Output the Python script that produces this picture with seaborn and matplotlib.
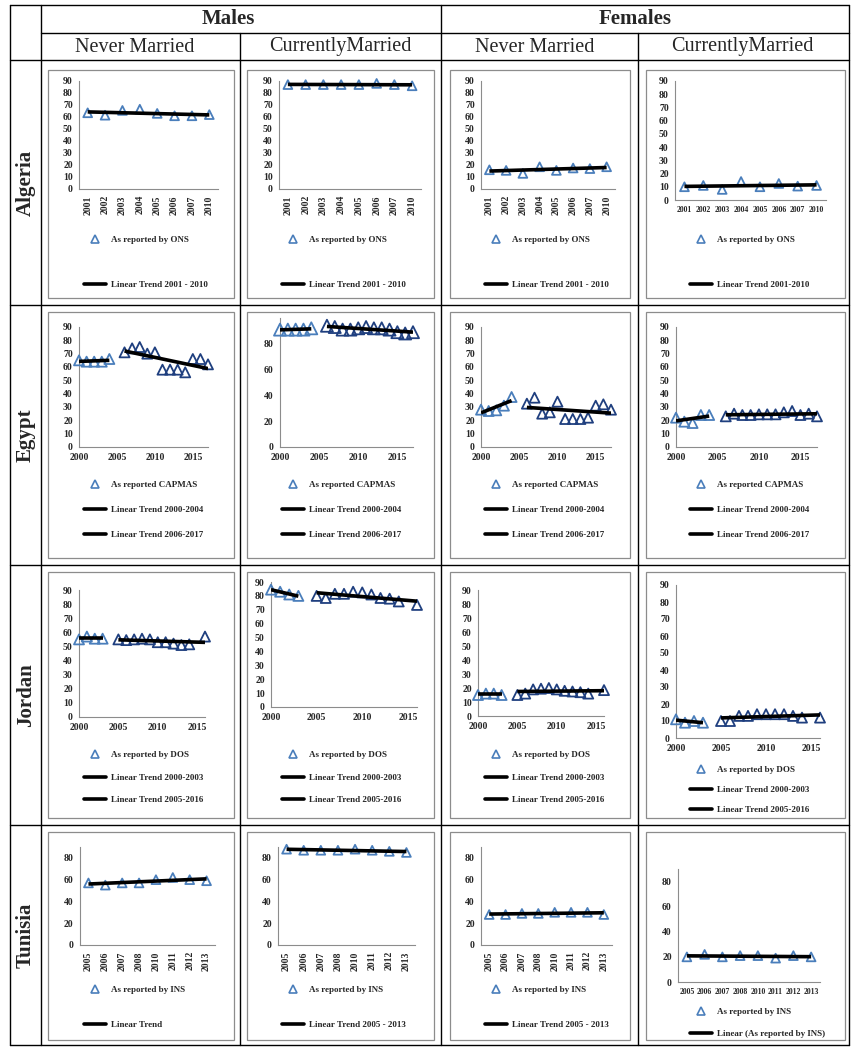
import matplotlib
matplotlib.use('Agg')
import matplotlib.pyplot as plt
from matplotlib.lines import Line2D
from matplotlib.patches import Rectangle
import numpy as np
import seaborn as sns

# ---- values ----
alg_years = ['2001', '2002', '2003', '2004', '2005', '2006', '2007', '2010']
alg_m_never = [63.5, 61.5, 65.5, 66.5, 63, 61, 61, 62]
alg_m_curr = [87, 87, 87, 87, 87, 88, 87, 86]
alg_f_never = [16, 15.5, 13, 18.5, 15.5, 17.5, 17, 18.5]
alg_f_curr = [10, 11, 8, 14, 10, 12.5, 10.5, 11]

egy_years_a = [2000, 2001, 2002, 2003, 2004]
egy_years_b = [2006, 2007, 2008, 2009, 2010, 2011, 2012, 2013, 2014, 2015, 2016, 2017]
egy_m_never_a = [65, 64, 64, 64, 66]
egy_m_never_b = [71, 74, 75, 70, 71, 58, 58, 58, 56, 66, 66, 62]
egy_m_curr_a = [91, 91, 91, 91, 92]
egy_m_curr_b = [94, 93, 91, 91, 92, 93, 92, 92, 91, 89, 88, 89]
egy_f_never_a = [28, 27, 27.5, 31, 37.5]
egy_f_never_b = [32.5, 37, 25, 26, 34, 21, 21, 21, 22, 31, 32, 28]
egy_f_curr_a = [22, 19, 18, 24, 24]
egy_f_curr_b = [23, 25, 24, 24, 24.5, 24.5, 24.5, 26, 27, 24, 25, 23]

jor_years_a = [2000, 2001, 2002, 2003]
jor_years_b = [2005, 2006, 2007, 2008, 2009, 2010, 2011, 2012, 2013, 2014, 2016]
jor_m_never_a = [55, 57, 55.5, 55.5]
jor_m_never_b = [55, 54.5, 55, 55.5, 55, 53, 53, 52, 51, 51.5, 57]
jor_m_curr_a = [84.5, 83, 81, 80]
jor_m_curr_b = [80, 78.5, 81.5, 81.5, 83, 82.5, 81, 78.5, 78, 76, 73.5]
jor_f_never_a = [15, 16, 16, 15]
jor_f_never_b = [15, 16, 19, 19.5, 20, 19, 18, 17.5, 17, 16, 18.5]
jor_f_curr_a = [11, 9, 10, 9]
jor_f_curr_b = [10, 10, 13, 13, 14, 14, 14, 14, 13, 12, 12]

tun_years = ['2005', '2006', '2007', '2008', '2010', '2011', '2012', '2013']
tun_m_never = [57, 55, 57, 57, 60, 62, 60, 59]
tun_m_curr = [88, 87, 87, 87, 88, 87, 86, 85]
tun_f_never = [28, 28, 29, 29, 30, 30, 30, 28]
tun_f_curr = [20, 22, 20, 21, 21, 19, 21, 20]

countries = ['Algeria', 'Egypt', 'Jordan', 'Tunisia']
sexes = ['Males', 'Females']
statuses = ['Never Married', 'CurrentlyMarried']

W, H = 855, 1050
BLUE = '#4a7ebb'
NAVY = '#1f3f7f'
GRID_LINE = '#8c8c8c'


def px_box(x0, y0, x1, y1):
    return [x0 / W, 1 - y1 / H, (x1 - x0) / W, (y1 - y0) / H]


def fig_line(fig, x0, y0, x1, y1, lw=1.0, color='black'):
    fig.add_artist(Line2D([x0 / W, x1 / W], [1 - y0 / H, 1 - y1 / H],
                          transform=fig.transFigure, color=color, lw=lw))


def fig_frame(fig, x0, y0, x1, y1):
    fig.add_artist(Rectangle((x0 / W, 1 - y1 / H), (x1 - x0) / W, (y1 - y0) / H,
                             transform=fig.transFigure, fill=False,
                             edgecolor=GRID_LINE, lw=0.9))


def add_legend(fig, handle, label, x, y):
    fig.legend([handle], [label], loc='center left',
               bbox_to_anchor=(x / W, 1 - y / H), frameon=False,
               borderpad=0, borderaxespad=0, handlelength=2.4,
               handletextpad=0.6, prop={'weight': 'bold', 'size': 6.5})


def draw_panel(fig, box, segments, ylim, yticks, xlim, xticks=None,
               cat_labels=None, rotate=True, ms=40):
    ax = fig.add_axes(px_box(*box))
    for i, (xs, ys) in enumerate(segments):
        col = BLUE if i == 0 else NAVY
        sns.scatterplot(x=xs, y=ys, marker='^', s=ms, facecolor='none',
                        edgecolor=col, linewidth=1.3, ax=ax, zorder=3,
                        clip_on=False)
        sns.regplot(x=xs, y=ys, scatter=False, ci=None, truncate=True,
                    color='black', ax=ax,
                    line_kws={'lw': 2.6, 'zorder': 4, 'solid_capstyle': 'butt'})
    ax.set_xlim(*xlim)
    ax.set_ylim(*ylim)
    ax.set_yticks(yticks)
    if cat_labels is not None:
        ax.set_xticks(np.arange(len(cat_labels)))
        ax.set_xticklabels(cat_labels, rotation=90 if rotate else 0)
    else:
        ax.set_xticks(xticks)
    ax.set_xlabel('')
    ax.set_ylabel('')
    ax.set_facecolor('none')
    for s in ['top', 'right']:
        ax.spines[s].set_visible(False)
    for s in ['left', 'bottom']:
        ax.spines[s].set_color(GRID_LINE)
        ax.spines[s].set_linewidth(0.8)
    ax.tick_params(axis='both', length=3, width=0.8, color=GRID_LINE,
                   labelsize=7, pad=1.5, direction='out')
    if cat_labels is not None and not rotate:
        # horizontal year labels sit side by side in the reference
        ax.tick_params(axis='x', labelsize=5.6, pad=1)
    for t in ax.get_xticklabels() + ax.get_yticklabels():
        t.set_fontweight('bold')
    return ax


def main():
    sns.set_theme(style='white')
    plt.rcParams['font.family'] = ['Liberation Serif', 'DejaVu Serif']
    fig = plt.figure(figsize=(W / 100, H / 100), dpi=100)

    # ---- table grid ----
    rows = [60, 305, 565, 825, 1045]
    fig_line(fig, 10, 5, 849, 5)
    fig_line(fig, 41, 33, 849, 33)
    for y in rows:
        fig_line(fig, 10, y, 849, y)
    for x in [10, 41, 441, 849]:
        fig_line(fig, x, 5, x, 1045)
    for x in [240, 638]:
        fig_line(fig, x, 33, x, 1045)

    fig.text(228 / W, 1 - 19 / H, sexes[0], ha='center', va='center',
             fontsize=15, fontweight='bold')
    fig.text(635 / W, 1 - 19 / H, sexes[1], ha='center', va='center',
             fontsize=15, fontweight='bold')
    for cx, lab in zip([135, 340, 535, 742], statuses * 2):
        fig.text(cx / W, 1 - 47 / H, lab, ha='center', va='center', fontsize=14.5)
    for cy, name in zip([183, 435, 695, 935], countries):
        fig.text(26 / W, 1 - cy / H, name, ha='center', va='center',
                 fontsize=15, fontweight='bold', rotation=90)

    # chart-area frames
    frame_x = [(48, 234), (247, 434), (450, 630), (646, 845)]
    frame_y = [(70, 298), (312, 558), (572, 818), (832, 1040)]
    for ry in frame_y:
        for rx in frame_x:
            fig_frame(fig, rx[0], ry[0], rx[1], ry[1])

    tri = Line2D([], [], marker='^', ls='none', mfc='none', mec=BLUE, mew=1.2, ms=6)
    trend = Line2D([], [], color='black', lw=2.6)
    leg_x = [84, 282, 485, 690]

    # ---- Algeria ----
    cat = np.arange(len(alg_years))
    y90 = [0, 10, 20, 30, 40, 50, 60, 70, 80, 90]
    alg_boxes = [(79, 81, 218, 189), (279, 81, 421, 189),
                 (481, 81, 615, 189), (675, 81, 826, 200)]
    alg_series = [alg_m_never, alg_m_curr, alg_f_never, alg_f_curr]
    for i, (box, vals) in enumerate(zip(alg_boxes, alg_series)):
        draw_panel(fig, box, [(cat, vals)], (0, 90), y90, (-0.5, 7.5),
                   cat_labels=alg_years, rotate=(i != 3), ms=40)
        add_legend(fig, tri, 'As reported by ONS', leg_x[i], 240)
        add_legend(fig, trend, 'Linear Trend 2001 - 2010' if i < 3
                   else 'Linear Trend 2001-2010', leg_x[i], 285)

    # ---- Egypt ----
    egy_boxes = [(79, 327, 208, 447), (280, 318, 413, 447),
                 (481, 327, 611, 447), (676, 327, 817, 447)]
    egy_series = [(egy_m_never_a, egy_m_never_b), (egy_m_curr_a, egy_m_curr_b),
                  (egy_f_never_a, egy_f_never_b), (egy_f_curr_a, egy_f_curr_b)]
    for i, (box, (va, vb)) in enumerate(zip(egy_boxes, egy_series)):
        if i == 1:
            ylim, yt, ms = (0, 100), [0, 20, 40, 60, 80], 75
        else:
            ylim, yt, ms = (0, 90), y90, 52
        draw_panel(fig, box, [(egy_years_a, va), (egy_years_b, vb)], ylim, yt,
                   (2000, 2017), xticks=[2000, 2005, 2010, 2015], ms=ms)
        add_legend(fig, tri, 'As reported CAPMAS', leg_x[i], 485)
        add_legend(fig, trend, 'Linear Trend 2000-2004', leg_x[i], 510)
        add_legend(fig, trend, 'Linear Trend 2006-2017', leg_x[i], 535)

    # ---- Jordan ----
    jor_boxes = [(79, 590, 205, 717), (271, 582, 417, 707),
                 (478, 590, 604, 716), (676, 585, 820, 738)]
    jor_series = [(jor_m_never_a, jor_m_never_b), (jor_m_curr_a, jor_m_curr_b),
                  (jor_f_never_a, jor_f_never_b), (jor_f_curr_a, jor_f_curr_b)]
    jor_leg_y = [(755, 778, 800)] * 3 + [(770, 790, 810)]
    for i, (box, (va, vb)) in enumerate(zip(jor_boxes, jor_series)):
        draw_panel(fig, box, [(jor_years_a, va), (jor_years_b, vb)], (0, 90), y90,
                   (2000, 2016), xticks=[2000, 2005, 2010, 2015], ms=52)
        ly = jor_leg_y[i]
        add_legend(fig, tri, 'As reported by DOS', leg_x[i], ly[0])
        add_legend(fig, trend, 'Linear Trend 2000-2003', leg_x[i], ly[1])
        add_legend(fig, trend, 'Linear Trend 2005-2016', leg_x[i], ly[2])

    # ---- Tunisia ----
    cat = np.arange(len(tun_years))
    tun_boxes = [(80, 847, 215, 945), (278, 847, 415, 945),
                 (481, 847, 612, 945), (678, 869, 820, 982)]
    tun_series = [tun_m_never, tun_m_curr, tun_f_never, tun_f_curr]
    tun_trend = ['Linear Trend', 'Linear Trend 2005 - 2013',
                 'Linear Trend 2005 - 2013', 'Linear (As reported by INS)']
    tun_leg_y = [(990, 1025)] * 3 + [(1012, 1034)]
    for i, (box, vals) in enumerate(zip(tun_boxes, tun_series)):
        draw_panel(fig, box, [(cat, vals)], (0, 90), [0, 20, 40, 60, 80],
                   (-0.5, 7.5), cat_labels=tun_years, rotate=(i != 3), ms=40)
        add_legend(fig, tri, 'As reported by INS', leg_x[i], tun_leg_y[i][0])
        add_legend(fig, trend, tun_trend[i], leg_x[i], tun_leg_y[i][1])

    fig.savefig('out.png', dpi=100)
    plt.close(fig)


if __name__ == '__main__':
    main()
